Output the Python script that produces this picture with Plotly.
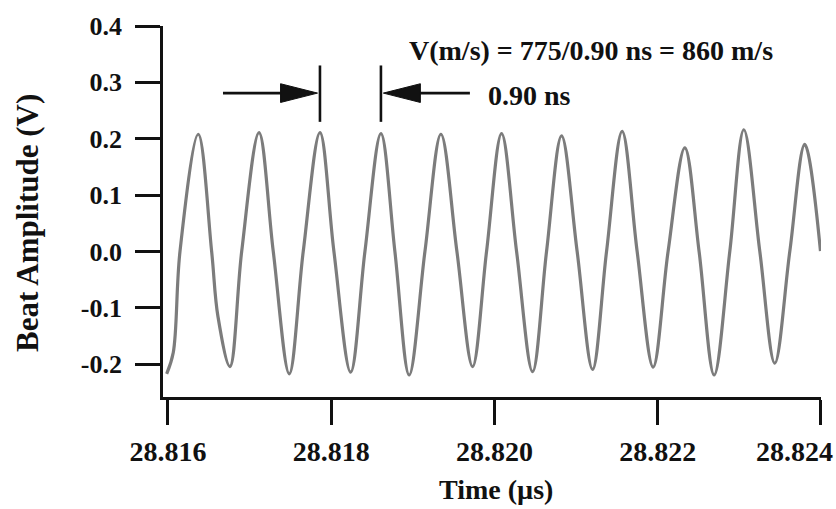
import plotly.graph_objects as go

# ---- data ----
time_us = [28.815984, 28.816065, 28.816147, 28.816371, 28.816535, 28.816612, 28.816759,
           28.816903, 28.817115, 28.817290, 28.817486, 28.817657, 28.817862, 28.818033,
           28.818238, 28.818413, 28.818609, 28.818780, 28.818955, 28.819148, 28.819344,
           28.819540, 28.819732, 28.819903, 28.820087, 28.820271, 28.820467, 28.820638,
           28.820822, 28.821013, 28.821202, 28.821373, 28.821564, 28.821748, 28.821944,
           28.822127, 28.822332, 28.822507, 28.822691, 28.822883, 28.823055, 28.823251,
           28.823434, 28.823618, 28.823802, 28.823994]
amplitude_v = [-0.217, -0.179, 0.000, 0.208, 0.000, -0.115, -0.204,
               0.000, 0.211, 0.000, -0.217, 0.000, 0.211, 0.000,
               -0.214, 0.000, 0.209, 0.000, -0.219, 0.000, 0.208,
               0.000, -0.204, 0.000, 0.209, 0.000, -0.213, 0.000,
               0.205, 0.000, -0.209, 0.000, 0.213, 0.000, -0.205,
               0.000, 0.184, 0.000, -0.219, 0.000, 0.216, 0.000,
               -0.198, 0.000, 0.190, 0.001]

x_tick_vals = [28.816, 28.818, 28.820, 28.822, 28.824]
x_tick_text = ["28.816", "28.818", "28.820", "28.822", "28.824"]
y_tick_vals = [-0.2, -0.1, 0.0, 0.1, 0.2, 0.3, 0.4]
y_tick_text = ["-0.2", "-0.1", "0.0", "0.1", "0.2", "0.3", "0.4"]

# marked period: the two peaks bracketed by the bars
marker_left_t = 28.817862
marker_right_t = 28.818609
arrow_left_tail = 28.816674
arrow_right_tail = 28.819699
arrow_level = 0.281
bar_low, bar_high = 0.230, 0.330

velocity_text = "V(m/s) = 775/0.90 ns = 860 m/s"
period_text = "0.90 ns"

FONT = "Liberation Serif"
INK = "#111111"

fig = go.Figure()
fig.add_trace(go.Scatter(
    x=time_us, y=amplitude_v, mode="lines",
    line=dict(color="#7c7c7c", width=3.2, shape="spline", smoothing=1.0),
    showlegend=False, hoverinfo="skip"))

head_len = 0.000453
head_half = 0.0166
lw = 2.6
shapes = []
# left arrow
shapes.append(dict(type="line", xref="x", yref="y", x0=arrow_left_tail, x1=marker_left_t - head_len,
                   y0=arrow_level, y1=arrow_level, line=dict(color=INK, width=lw)))
shapes.append(dict(type="path", xref="x", yref="y",
                   path=f"M {marker_left_t - 0.00003},{arrow_level} L {marker_left_t - 0.00003 - head_len},{arrow_level + head_half} "
                        f"L {marker_left_t - 0.00003 - head_len},{arrow_level - head_half} Z",
                   fillcolor=INK, line=dict(color=INK, width=1)))
# bars
for t in (marker_left_t, marker_right_t):
    shapes.append(dict(type="line", xref="x", yref="y", x0=t, x1=t, y0=bar_low, y1=bar_high,
                       line=dict(color=INK, width=lw)))
# right arrow
shapes.append(dict(type="line", xref="x", yref="y", x0=arrow_right_tail, x1=marker_right_t + head_len,
                   y0=arrow_level, y1=arrow_level, line=dict(color=INK, width=lw)))
shapes.append(dict(type="path", xref="x", yref="y",
                   path=f"M {marker_right_t + 0.00003},{arrow_level} L {marker_right_t + 0.00003 + head_len},{arrow_level + head_half} "
                        f"L {marker_right_t + 0.00003 + head_len},{arrow_level - head_half} Z",
                   fillcolor=INK, line=dict(color=INK, width=1)))

# the last x tick label sits shifted left so it stays inside the picture
shown_x_text = x_tick_text[:-1] + [""]

annotations = [
    dict(x=28.818927, y=0.356, xref="x", yref="y", text=velocity_text, showarrow=False,
         xanchor="left", yanchor="middle", font=dict(family=FONT, size=28, color=INK, weight="bold")),
    dict(x=28.819895, y=0.2775, xref="x", yref="y", text=period_text, showarrow=False,
         xanchor="left", yanchor="middle", font=dict(family=FONT, size=28, color=INK, weight="bold")),
    dict(x=1.0 + 14 / 658, y=-0.147, xref="paper", yref="paper", text=x_tick_text[-1], showarrow=False,
         xanchor="right", yanchor="middle", font=dict(family=FONT, size=28, color=INK, weight="bold")),
    dict(x=0.506, y=-0.249, xref="paper", yref="paper", text="Time (µs)", showarrow=False,
         xanchor="center", yanchor="middle", font=dict(family=FONT, size=28, color=INK, weight="bold")),
    dict(x=-0.2067, y=0.469, xref="paper", yref="paper", text="Beat Amplitude (V)", showarrow=False,
         textangle=-90, xanchor="center", yanchor="middle",
         font=dict(family=FONT, size=31, color=INK, weight="bold")),
]

axis_common = dict(showline=True, linecolor=INK, linewidth=2.6, ticks="outside", ticklen=25,
                   tickwidth=2.6, tickcolor=INK, showgrid=False, zeroline=False, mirror=False)

fig.update_layout(
    width=836, height=509,
    margin=dict(l=163, r=15, t=20, b=112),
    paper_bgcolor="white", plot_bgcolor="white",
    shapes=shapes, annotations=annotations,
    xaxis=dict(range=[28.815939, 28.8240005], tickvals=x_tick_vals, ticktext=shown_x_text,
               tickfont=dict(family=FONT, size=28, color=INK, weight="bold"),
               ticklabelstandoff=3, **axis_common),
    yaxis=dict(range=[-0.258, 0.4], tickvals=y_tick_vals, ticktext=y_tick_text,
               tickfont=dict(family=FONT, size=26, color=INK, weight="bold"),
               ticklabelstandoff=8, **axis_common),
)

fig.write_html("out.html")
